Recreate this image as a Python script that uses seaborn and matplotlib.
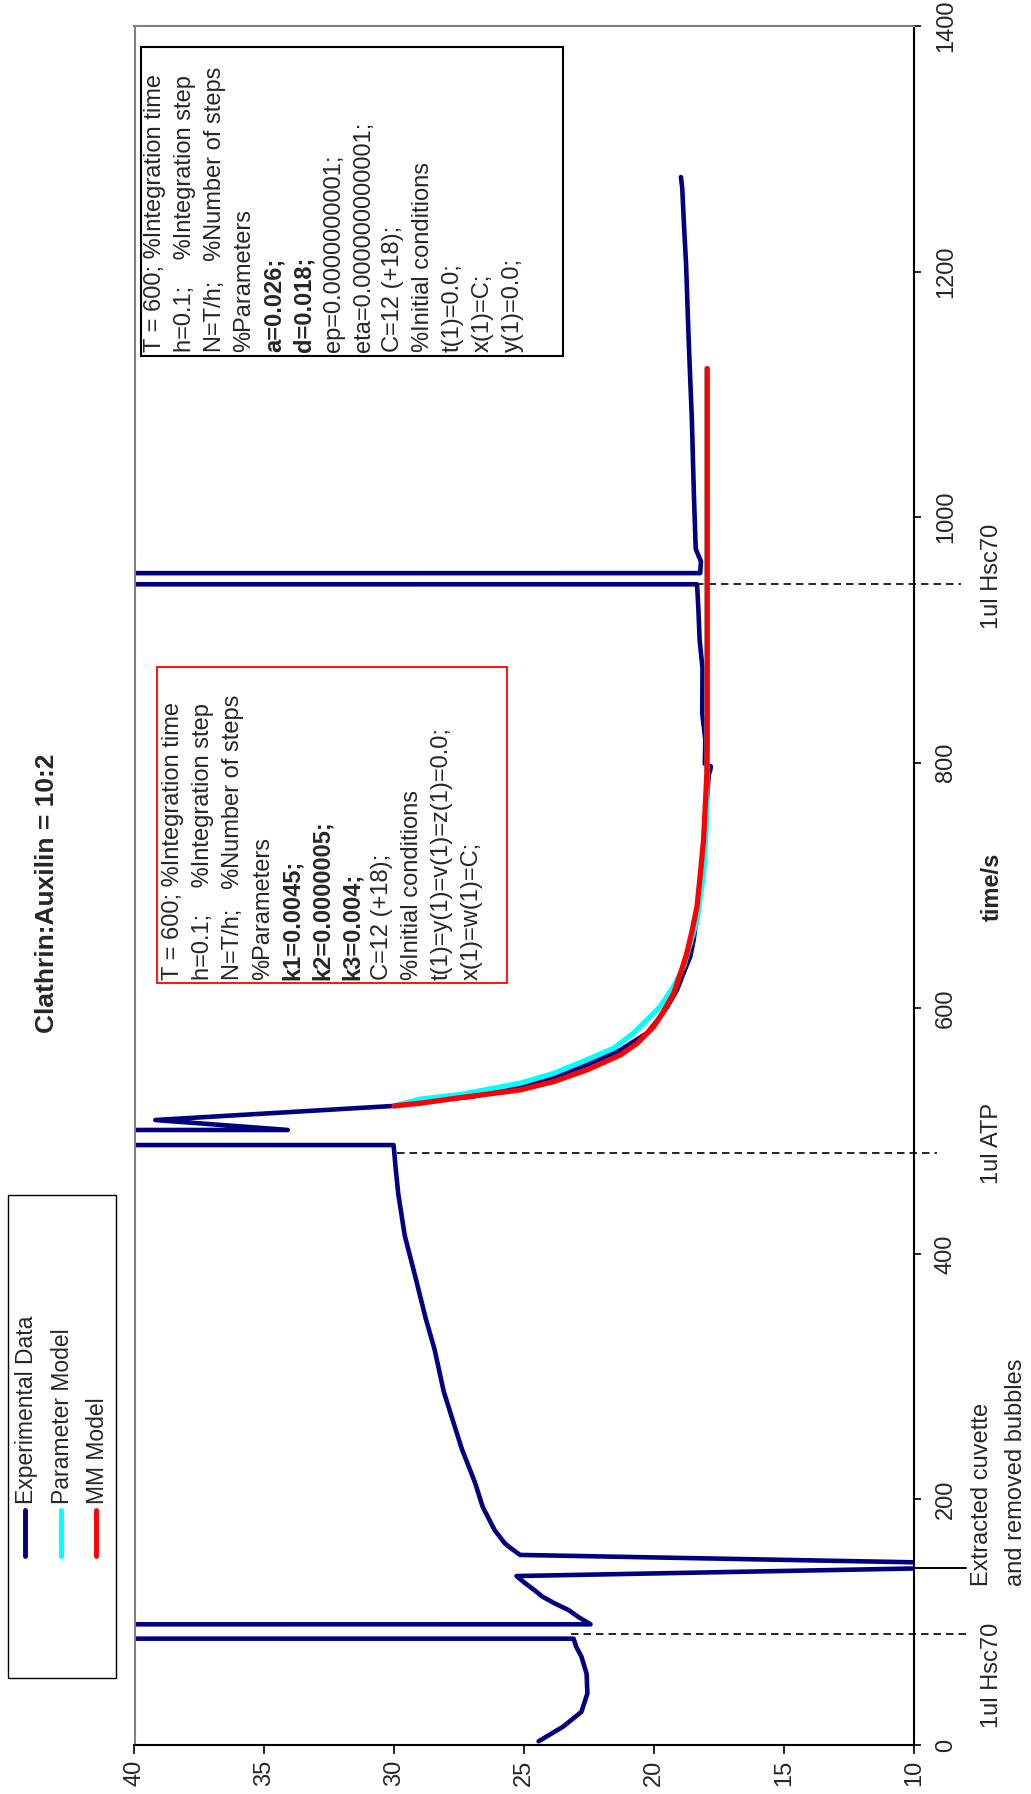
import matplotlib
matplotlib.use("Agg")
import matplotlib.pyplot as plt
from matplotlib.patches import Rectangle
from matplotlib.lines import Line2D
import pandas as pd
import seaborn as sns

exp_time = [3, 15, 27, 42, 58, 72, 80, 86.6, 86.7, 98.2, 98.3, 104, 110, 115, 120.8, 126, 131.7, 137.6,
            146.3, 154.8, 160, 164.3, 175, 194, 214, 241, 261, 288, 322, 348, 382, 415, 449, 470, 482, 488.6,
            488.7, 500.8, 500.9, 509, 520.5, 524, 528, 536.5, 544, 554, 566, 579.7, 593, 601, 615, 628.6,
            642, 655.7, 696.4, 737, 760, 777.9, 790, 794, 797, 799, 818.6, 840, 877, 900, 926, 945.3, 945.4,
            954.3, 954.4, 964, 974, 1017.5, 1080, 1143, 1205, 1237, 1268, 1277]
exp_signal = [24.45, 23.5, 22.8, 22.57, 22.6, 22.8, 23.0, 23.1, 200, 200, 22.45, 22.9, 23.3, 23.8, 24.3, 24.6,
              24.96, 25.3, 3.7, 25.16, 25.5, 25.75, 26.14, 26.6, 26.9, 27.4, 27.7, 28.1, 28.45, 28.8, 29.2,
              29.6, 29.85, 29.95, 30.0, 30.03, 200, 200, 34.1, 39.2, 30.0, 29.0, 27.0, 25.16, 23.87, 22.59,
              21.3, 20.28, 19.77, 19.5, 19.12, 18.87, 18.61, 18.48, 18.22, 18.03, 18.0, 17.94, 17.9, 17.84,
              17.82, 18.05, 18.03, 18.15, 18.14, 18.25, 18.3, 18.35, 200, 200, 18.23, 18.2, 18.4, 18.47,
              18.55, 18.67, 18.77, 18.85, 18.92, 18.97]

# Parameter model
param_time = [520.5, 526, 530, 539, 547, 558, 567.5, 579.7, 590.5, 601.4, 617.7, 634, 672, 710, 750, 800, 1121]
param_signal = [30.0, 29.0, 27.4, 25.16, 23.87, 22.59, 21.56, 20.8, 20.28, 19.77, 19.25, 18.87, 18.35, 18.1,
                17.99, 17.96, 17.96]

# MM model
mm_time = [520.5, 522.7, 527.4, 533.5, 540.3, 549.8, 562, 571.4, 585, 597.5, 612, 628.2, 645, 663.2, 683,
           710, 737, 791.5, 818.6, 1121]
mm_signal = [30.0, 29.0, 27.4, 25.16, 23.87, 22.59, 21.3, 20.66, 20.02, 19.64, 19.25, 18.99, 18.74, 18.54,
             18.35, 18.22, 18.1, 17.97, 17.96, 17.96]

signal_ticks = [40, 35, 30, 25, 20, 15, 10]
time_ticks = [0, 200, 400, 600, 800, 1000, 1200, 1400]

# additions marked on the time axis
event_times = [90.1, 482.5, 945.4]
event_from = [23.2, 29.9, 18.4]
event_to = [7.9, 9.1, 8.2]
cuvette_time = 144.4

legend_labels = ["Experimental Data", "Parameter Model", "MM Model"]
line_colors = ["#000080", "#00FFFF", "#FF0000"]

mm_box_lines = ["T = 600; %Integration time", "h=0.1;    %Integration step",
                "N=T/h;   %Number of steps", "%Parameters", "k1=0.0045;", "k2=0.0000005;",
                "k3=0.004;", "C=12 (+18);", "%Initial conditions", "t(1)=y(1)=v(1)=z(1)=0.0;",
                "x(1)=w(1)=C;"]
mm_box_bold = [False, False, False, False, True, True, True, False, False, False, False]

par_box_lines = ["T = 600; %Integration time", "h=0.1;    %Integration step",
                 "N=T/h;   %Number of steps", "%Parameters", "a=0.026;", "d=0.018;",
                 "ep=0.0000000001;", "eta=0.000000000001;", "C=12 (+18);", "%Initial conditions",
                 "t(1)=0.0;", "x(1)=C;", "y(1)=0.0;"]
par_box_bold = [False, False, False, False, True, True, False, False, False, False, False, False, False]

W, H = 1031, 1794
sns.set_style("white")
plt.rcParams['font.family'] = ['Liberation Sans', 'DejaVu Sans']


def fx(px):
    return px / W


def fy(py):
    return 1 - py / H


fig = plt.figure(figsize=(W / 100, H / 100), dpi=100)
ax = fig.add_axes([fx(134.5), fy(1745), (914 - 134.5) / W, (1745 - 26) / H])

# the chart is turned on its side: signal runs along x (inverted), time along y
exp_df = pd.DataFrame({"time": exp_time, "signal": exp_signal})
par_df = pd.DataFrame({"time": param_time, "signal": param_signal})
mm_df = pd.DataFrame({"time": mm_time, "signal": mm_signal})
sns.lineplot(data=exp_df, x="signal", y="time", sort=False, estimator=None,
             color=line_colors[0], lw=3.3, solid_joinstyle="round", ax=ax)
sns.lineplot(data=par_df, x="signal", y="time", sort=False, estimator=None,
             color=line_colors[1], lw=3.8, solid_joinstyle="round", ax=ax)
sns.lineplot(data=mm_df, x="signal", y="time", sort=False, estimator=None,
             color=line_colors[2], lw=3.8, solid_joinstyle="round", ax=ax)

ax.set_xlim(40, 10)
ax.set_ylim(0, 1400)
ax.set_xticks(signal_ticks)
ax.set_yticks(time_ticks)
ax.set_xlabel("")
ax.set_ylabel("")
ax.yaxis.tick_right()
ax.tick_params(axis="x", bottom=True, direction="out", length=6.5, width=1.2, color="black",
               labelsize=17, labelrotation=90, pad=4)
ax.tick_params(axis="y", right=True, left=False, direction="out", length=5, width=1.2, color="black",
               labelsize=17, labelrotation=90, pad=10)
for lbl in ax.get_yticklabels():
    lbl.set_va("center")
for s in ["left", "top"]:
    ax.spines[s].set_color("#808080")
    ax.spines[s].set_linewidth(1.5)
for s in ["right", "bottom"]:
    ax.spines[s].set_color("black")
    ax.spines[s].set_linewidth(1.5)

# event markers
for t, v0, v1 in zip(event_times, event_from, event_to):
    ax.plot([v0, v1], [t, t], color="black", lw=1.2, ls=(0, (4.5, 3)), clip_on=False)
ax.plot([10, 8.0], [cuvette_time, cuvette_time], color="black", lw=1.4, clip_on=False)

# outside labels
fig.text(fx(47), fy(893), "Clathrin:Auxilin = 10:2", rotation=90, ha="center", va="center",
         fontsize=19, fontweight="bold")
fig.text(fx(992), fy(887), "time/s", rotation=90, ha="center", va="center", fontsize=17,
         fontweight="bold")
fig.text(fx(992), fy(1675), "1ul Hsc70", rotation=90, ha="center", va="center", fontsize=17)
fig.text(fx(981.5), fy(1586), "Extracted cuvette", rotation=90, ha="center", va="bottom", fontsize=17)
fig.text(fx(1015.5), fy(1586), "and removed bubbles", rotation=90, ha="center", va="bottom", fontsize=17)
fig.text(fx(992.5), fy(1143.5), "1ul ATP", rotation=90, ha="center", va="center", fontsize=17)
fig.text(fx(992.5), fy(576), "1ul Hsc70", rotation=90, ha="center", va="center", fontsize=17)

# legend (drawn by hand, rotated)
fig.add_artist(Rectangle((fx(8.3), fy(1678)), (115.7 - 8.3) / W, (1678 - 1195) / H,
                         transform=fig.transFigure, fill=False, edgecolor="black", lw=1.0))
for i, (lab, col) in enumerate(zip(legend_labels, line_colors)):
    hx = 25 + 35.5 * i
    fig.add_artist(Line2D([fx(hx), fx(hx)], [fy(1556), fy(1510)], transform=fig.transFigure,
                          color=col, lw=3.5, solid_capstyle="round"))
    fig.text(fx(hx + 2), fy(1504), lab, rotation=90, ha="center", va="bottom", fontsize=16.5)

# parameter text boxes
fig.add_artist(Rectangle((fx(157), fy(983)), (507 - 157) / W, (983 - 667) / H,
                         transform=fig.transFigure, facecolor="white", edgecolor="red", lw=1.3))
for i, (txt, b) in enumerate(zip(mm_box_lines, mm_box_bold)):
    fig.text(fx(173.3 + 29.85 * i), fy(980), txt, rotation=90, ha="center", va="bottom",
             fontsize=17, fontweight="bold" if b else "normal")

fig.add_artist(Rectangle((fx(141), fy(356)), (563 - 141) / W, (356 - 47) / H,
                         transform=fig.transFigure, facecolor="white", edgecolor="black", lw=1.5))
for i, (txt, b) in enumerate(zip(par_box_lines, par_box_bold)):
    fig.text(fx(155 + 29.8 * i), fy(352), txt, rotation=90, ha="center", va="bottom",
             fontsize=17, fontweight="bold" if b else "normal")

fig.savefig("out.png", dpi=100)
